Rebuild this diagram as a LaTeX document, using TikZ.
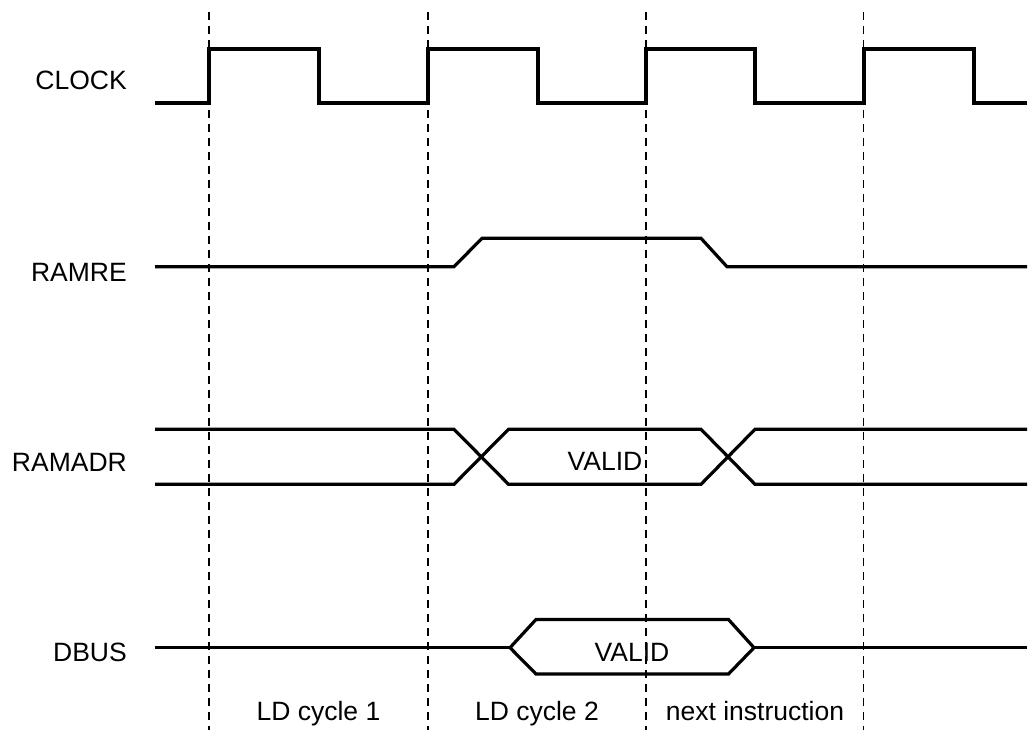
\documentclass[tikz,border=0pt]{standalone}
\usepackage{fontspec}
\setmainfont{Liberation Sans}
\usepackage{tikz}
\pgfdeclarelayer{bg}
\pgfsetlayers{bg,main}

\begin{document}
\begin{tikzpicture}[x=1pt,y=-1pt,
        font=\fontsize{26.5}{31}\selectfont,
        wave/.style={line width=3.2pt,line join=miter},
        tick/.style={line width=1.4pt,dash pattern=on 8pt off 6pt},
        signame/.style={anchor=base east,inner sep=0pt},
        txt/.style={anchor=base}]
        \useasboundingbox (0,0) rectangle (1031,730);
        \node (clk) [signame] at (127, 90) {CLOCK};
        \node (ramre) [signame] at (127, 281) {RAMRE};
        \node (ramadr) [signame] at (127, 471.5) {RAMADR};
        \node (dbus) [signame] at (127, 661) {DBUS};
        \node (adrvalid) [txt] at (605, 470) {VALID};
        \node (busvalid) [txt] at (632, 661.5) {VALID};
        \node (cyc1) [txt] at (318.5, 720) {LD cycle 1};
        \node (cyc2) [txt] at (537, 720) {LD cycle 2};
        \node (next) [txt] at (755, 720) {next instruction};
        \begin{pgfonlayer}{bg}
                \draw [wave] (155,103) -- (209,103) -- (209,49) -- (319,49) -- (319,103) -- (428,103) -- (428,49) -- (538,49) -- (538,103) -- (646,103) -- (646,49) -- (755,49) -- (755,103) -- (864,103) -- (864,49) -- (974,49) -- (974,103) -- (1027,103);
                \draw [wave] (155,266.7) -- (454,266.7) -- (482,238.3) -- (701,238.3) -- (727,266.7) -- (1027,266.7);
                \draw [wave] (155,429.3) -- (454,429.3) -- (508.5,484.3) -- (701,484.3) -- (755,429.3) -- (1027,429.3);
                \draw [wave] (155,484.3) -- (454,484.3) -- (508.5,429.3) -- (701,429.3) -- (755,484.3) -- (1027,484.3);
                \draw [wave] (155,647.7) -- (510,647.7);
                \draw [wave] (510,647.7) -- (536,619.5) -- (728.5,619.5) -- (754,647.7) -- (728.5,674) -- (536,674) -- cycle;
                \draw [wave] (754,647.7) -- (1027,647.7);
        \end{pgfonlayer}
        \draw [tick] (209,12) -- (209,730);
        \draw [tick] (428,12) -- (428,730);
        \draw [tick] (646,12) -- (646,730);
        \draw [tick] (863.5,12) -- (863.5,730);
\end{tikzpicture}
\end{document}
